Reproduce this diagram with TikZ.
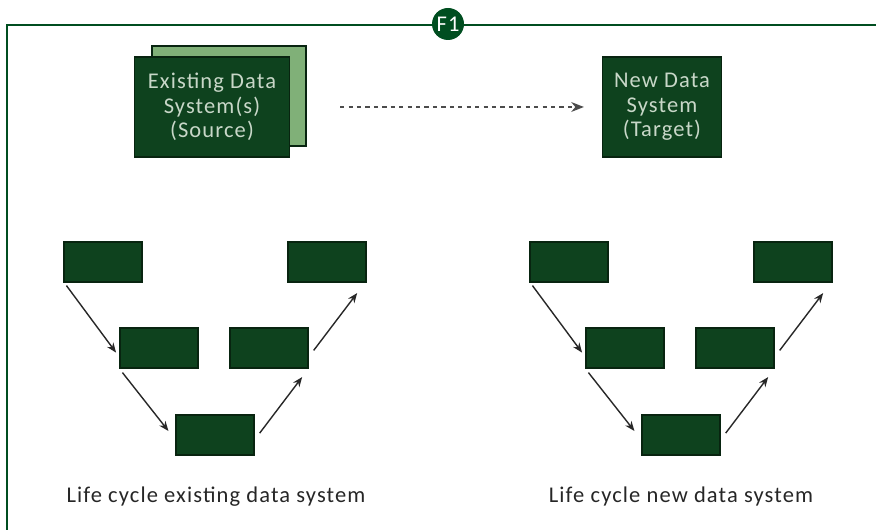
\documentclass[tikz,border=0pt]{standalone}
\usepackage{fontspec}
\setmainfont{Carlito}[LetterSpace=5]
\usepackage{tikz}
\usetikzlibrary{positioning, calc, arrows.meta, shapes.geometric}

\definecolor{boxgreen}{RGB}{14,66,30}
\definecolor{edgegreen}{RGB}{8,36,16}
\definecolor{paleback}{RGB}{128,176,120}
\definecolor{textgreen}{RGB}{200,215,200}
\definecolor{framegreen}{RGB}{0,78,32}
\definecolor{arrowgrey}{RGB}{40,40,40}

\begin{document}
\begin{tikzpicture}[x=0.025cm, y=-0.025cm, >={Stealth[length=7pt, width=5.5pt]}, thick]
        % Define block styles
        \tikzstyle{system} = [rectangle, draw=edgegreen, fill=boxgreen, text=textgreen, align=center, minimum height=2.5cm, inner sep=0pt, font=\fontsize{16}{17.5}\selectfont]
        \tikzstyle{stage} = [rectangle, draw=edgegreen, fill=boxgreen, minimum width=1.95cm, minimum height=1cm, inner sep=0pt]
        \tikzstyle{flow} = [->, draw=arrowgrey, line width=1pt, shorten >=4pt]
        \tikzstyle{caption} = [font=\fontsize{16}{18}\selectfont, text=black!85]

        \useasboundingbox (0,0) rectangle (876,530);

        % Frame and badge
        \draw [framegreen, line width=1.2pt] (876,25) -| (7,530);
        \node [circle, fill=framegreen, text=white, minimum size=0.8cm, inner sep=0pt, font=\fontsize{16}{16}\selectfont] (badge) at (448,24) {F1};

        % Place system nodes
        \node [system, fill=paleback, minimum width=3.85cm] (srcback) at (229,96) {};
        \node [system, minimum width=3.875cm] (src) at (212,107) {Existing Data\\System(s)\\(Source)};
        \node [system, minimum width=2.975cm] (tgt) at (662,107) {New Data\\System\\(Target)};

        % Migration arrow
        \draw [-{Stealth[length=9pt, width=7pt]}, dashed, draw=gray!60!black, line width=1.4pt, shorten <=1.25cm, shorten >=0.45cm] (src) -- (tgt);

        % Place life cycle nodes (existing system)
        \node [stage] (old1) at (103,262) {};
        \node [stage] (old2) at (159,348) {};
        \node [stage] (old5) at (215,435) {};
        \node [stage] (old3) at (269,348) {};
        \node [stage] (old4) at (327,262) {};

        % Place life cycle nodes (new system)
        \node [stage] (new1) at (569,262) {};
        \node [stage] (new2) at (625,348) {};
        \node [stage] (new5) at (681,435) {};
        \node [stage] (new3) at (735,348) {};
        \node [stage] (new4) at (793,262) {};

        % Draw connections as arrows
        \draw [flow] ([shift={(3,3)}]old1.south west) -- (old2.193);
        \draw [flow, shorten >=8pt] ([shift={(3,4)}]old2.south west) -- (old5.187);
        \draw [flow, shorten <=6pt] (old5.353) -- ([shift={(-3,4)}]old3.south east);
        \draw [flow, shorten <=6pt] (old3.347) -- ([shift={(-6,6)}]old4.south east);

        \draw [flow] ([shift={(3,3)}]new1.south west) -- (new2.193);
        \draw [flow, shorten >=8pt] ([shift={(3,4)}]new2.south west) -- (new5.187);
        \draw [flow, shorten <=6pt] (new5.353) -- ([shift={(-3,4)}]new3.south east);
        \draw [flow, shorten <=6pt] (new3.347) -- ([shift={(-6,6)}]new4.south east);

        % Add captions
        \node [caption] (capold) at (216,497) {Life cycle existing data system};
        \node [caption] (capnew) at (681,497) {Life cycle new data system};
    \end{tikzpicture}
\end{document}
